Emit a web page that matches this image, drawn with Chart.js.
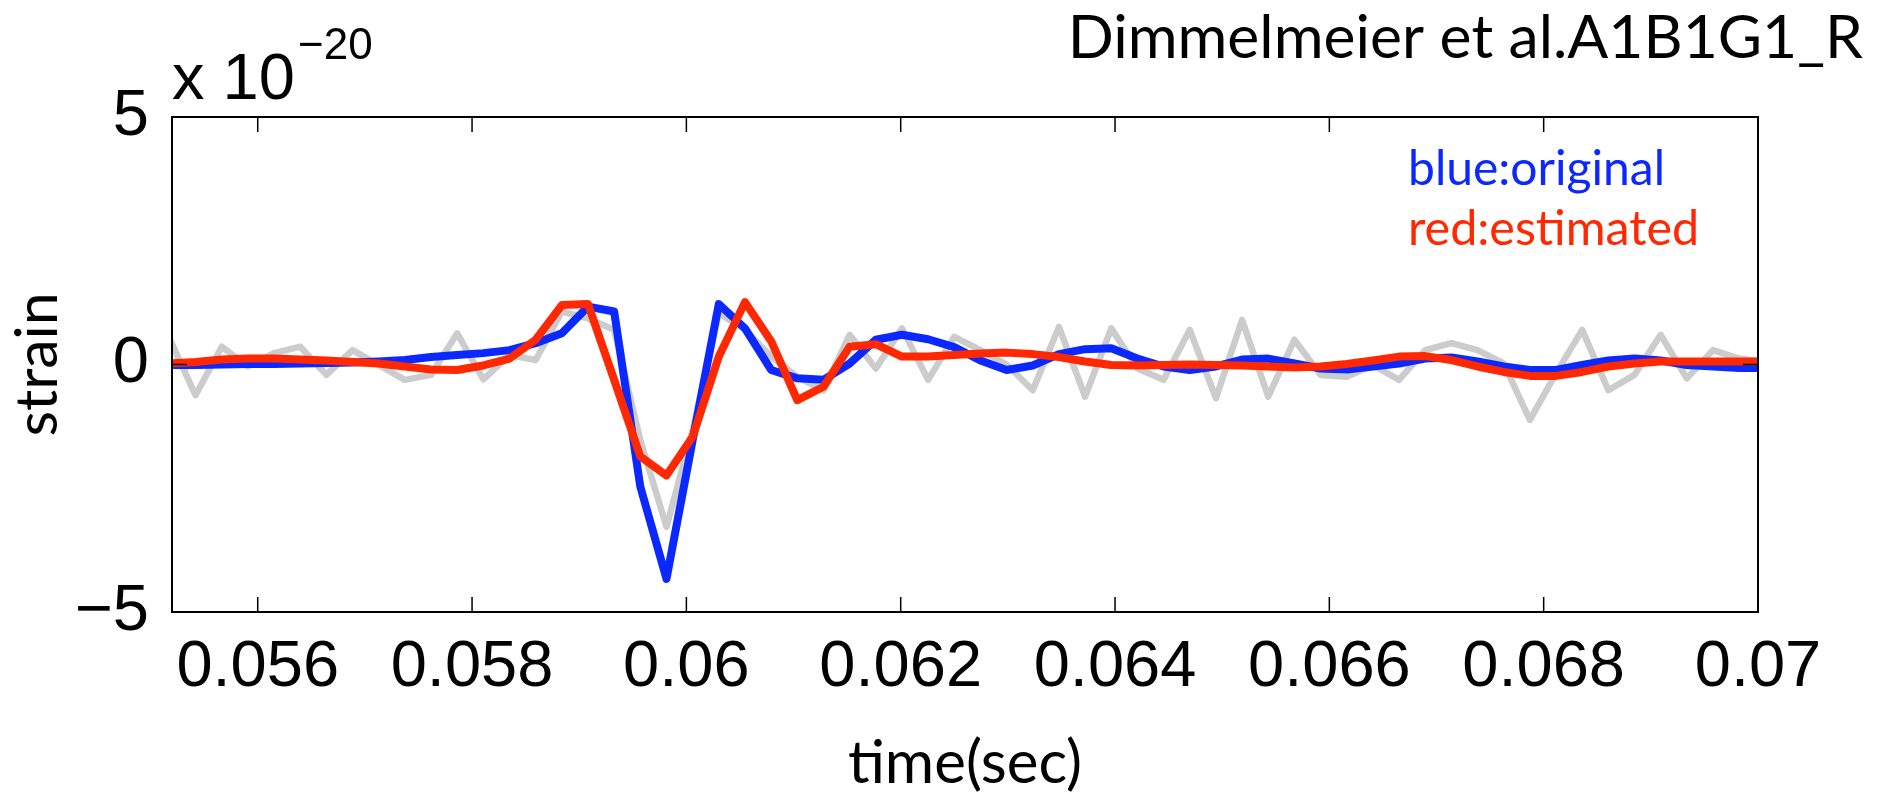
<!DOCTYPE html>
<html>
<head>
<meta charset="utf-8">
<script src="https://cdn.jsdelivr.net/npm/chart.js@4.4.1/dist/chart.umd.min.js"></script>
<style>
  html, body { margin: 0; padding: 0; background: #fff; }
  #wrap { width: 1885px; height: 800px; }
</style>
</head>
<body>
<div id="wrap"><canvas id="strainChart"></canvas></div>
<script>
// samples at 4096 Hz, strain in units of 1e-20
const sampleRate = 4096;
const firstSample = 226;

const xTickValues = [0.056, 0.058, 0.060, 0.062, 0.064, 0.066, 0.068, 0.070];
const xTickLabels = ['0.056', '0.058', '0.06', '0.062', '0.064', '0.066', '0.068', '0.07'];
const yTickValues = [-5, 0, 5];
const yTickLabels = ['\u22125', '0', '5'];

// gray: noisy data
const noisyData = [
  0.53, -0.62, 0.36, -0.04, 0.23, 0.36, -0.21, 0.29, -0.01, -0.31,
  -0.21, 0.63, -0.30, 0.19, 0.09, 1.07, 0.93, 0.70, -1.53, -3.28,
  -1.32, 1.04, 0.70, 0.16, -0.25, -0.52, 0.60, -0.08, 0.73, -0.31,
  0.56, 0.29, 0.00, -0.52, 0.76, -0.65, 0.73, -0.08, -0.31, 0.70,
  -0.68, 0.90, -0.65, 0.50, -0.21, -0.25, -0.01, -0.31, 0.29, 0.43,
  0.29, 0.02, -1.12, -0.18, 0.70, -0.52, -0.21, 0.60, -0.28, 0.29,
  0.12, 0.05
];

// blue: original waveform
const originalData = [
  -0.01, -0.01, 0.00, 0.01, 0.01, 0.02, 0.03, 0.04, 0.06, 0.09,
  0.15, 0.19, 0.23, 0.29, 0.43, 0.63, 1.17, 1.07, -2.47, -4.33,
  -1.53, 1.22, 0.73, -0.11, -0.28, -0.31, 0.02, 0.50, 0.60, 0.51,
  0.35, 0.08, -0.11, -0.02, 0.21, 0.31, 0.33, 0.12, -0.04, -0.11,
  -0.04, 0.10, 0.12, 0.02, -0.08, -0.10, -0.04, 0.02, 0.12, 0.14,
  0.06, -0.04, -0.11, -0.11, -0.01, 0.08, 0.12, 0.08, -0.01, -0.04,
  -0.07, -0.07
];

// red: estimated waveform
const estimatedData = [
  0.02, 0.05, 0.10, 0.12, 0.12, 0.10, 0.08, 0.05, 0.02, -0.04,
  -0.10, -0.11, -0.02, 0.12, 0.50, 1.20, 1.22, -0.31, -1.86, -2.24,
  -1.46, 0.16, 1.26, 0.47, -0.72, -0.45, 0.36, 0.41, 0.16, 0.16,
  0.19, 0.22, 0.24, 0.21, 0.15, 0.06, -0.01, -0.02, -0.01, 0.00,
  -0.01, -0.02, -0.04, -0.06, -0.04, 0.01, 0.08, 0.16, 0.17, 0.09,
  -0.04, -0.15, -0.23, -0.23, -0.15, -0.04, 0.02, 0.06, 0.06, 0.06,
  0.06, 0.06
];

const times = noisyData.map((_, i) => (firstSample + i) / sampleRate);
const toPoints = vals => vals.map((v, i) => ({ x: times[i], y: v }));

const tickFont = { family: "'Liberation Sans', Arial, sans-serif", size: 65 };
const gillFont = "Lato, 'Open Sans', sans-serif";

// size a font so the text spans a given width
function fitFont(ctx, text, family, width) {
  ctx.font = '100px ' + family;
  const size = 100 * width / ctx.measureText(text).width;
  return size.toFixed(1) + 'px ' + family;
}

// matlab style box, inward ticks and the loose texts
const matlabBox = {
  id: 'matlabBox',
  afterDatasetsDraw(chart) {
    const { ctx, chartArea: a, scales: { x, y } } = chart;
    ctx.save();
    ctx.strokeStyle = '#000';
    ctx.lineWidth = 2;
    ctx.strokeRect(a.left, a.top, a.right - a.left, a.bottom - a.top);
    ctx.lineWidth = 1.5;
    ctx.beginPath();
    xTickValues.forEach(v => {
      const px = x.getPixelForValue(v);
      ctx.moveTo(px, a.bottom); ctx.lineTo(px, a.bottom - 15);
      ctx.moveTo(px, a.top); ctx.lineTo(px, a.top + 15);
    });
    yTickValues.forEach(v => {
      const py = y.getPixelForValue(v);
      ctx.moveTo(a.left, py); ctx.lineTo(a.left + 15, py);
      ctx.moveTo(a.right, py); ctx.lineTo(a.right - 15, py);
    });
    ctx.stroke();
    ctx.restore();
  },
  afterDraw(chart) {
    const ctx = chart.ctx;
    ctx.save();
    ctx.textBaseline = 'alphabetic';
    ctx.fillStyle = '#000';

    // exponent label
    ctx.textAlign = 'left';
    ctx.font = "65px 'Liberation Sans', Arial, sans-serif";
    ctx.fillText('x 10', 172, 99);
    ctx.font = "44px 'Liberation Sans', Arial, sans-serif";
    ctx.fillText('\u221220', 298, 59);

    // title
    ctx.textAlign = 'right';
    ctx.font = fitFont(ctx, 'Dimmelmeier et al.A1B1G1_R', gillFont, 795);
    ctx.fillText('Dimmelmeier et al.A1B1G1_R', 1863, 58);

    // colour key
    ctx.textAlign = 'left';
    ctx.fillStyle = '#0a28ff';
    ctx.font = fitFont(ctx, 'blue:original', gillFont, 257);
    ctx.fillText('blue:original', 1408, 185);
    ctx.fillStyle = '#ff2800';
    ctx.font = fitFont(ctx, 'red:estimated', gillFont, 291);
    ctx.fillText('red:estimated', 1408, 245);
    ctx.restore();
  }
};

new Chart(document.getElementById('strainChart'), {
  type: 'line',
  data: {
    datasets: [
      {
        label: 'estimated',
        data: toPoints(estimatedData),
        borderColor: '#ff2800',
        borderWidth: 8,
        order: 0
      },
      {
        label: 'original',
        data: toPoints(originalData),
        borderColor: '#0a28ff',
        borderWidth: 8,
        order: 1
      },
      {
        label: 'noisy',
        data: toPoints(noisyData),
        borderColor: '#cccccc',
        borderWidth: 6.5,
        order: 2
      }
    ]
  },
  options: {
    responsive: true,
    maintainAspectRatio: false,
    animation: false,
    layout: { padding: { top: 117, right: 127, left: 0, bottom: 0 } },
    elements: {
      point: { radius: 0 },
      line: { tension: 0, borderJoinStyle: 'round', fill: false }
    },
    datasets: { line: { clip: 0 } },
    plugins: {
      legend: { display: false },
      title: { display: false },
      tooltip: { enabled: false }
    },
    scales: {
      x: {
        type: 'linear',
        min: 0.0552,
        max: 0.07,
        grid: { display: false },
        border: { display: false },
        afterBuildTicks: s => { s.ticks = xTickValues.map(v => ({ value: v })); },
        afterFit: s => { s.height = 188; },
        ticks: {
          callback: (v, i) => xTickLabels[i],
          font: tickFont,
          color: '#000',
          padding: 9,
          maxRotation: 0,
          autoSkip: false
        },
        title: {
          display: true,
          text: 'time(sec)',
          font: { family: gillFont, size: 60 },
          color: '#000',
          padding: { top: 0, bottom: 0 }
        }
      },
      y: {
        min: -5,
        max: 5,
        grid: { display: false },
        border: { display: false },
        afterBuildTicks: s => { s.ticks = yTickValues.map(v => ({ value: v })); },
        afterFit: s => { s.width = 172; },
        ticks: {
          callback: (v, i) => yTickLabels[i],
          font: tickFont,
          color: '#000',
          padding: 15
        },
        title: {
          display: true,
          text: 'strain',
          font: { family: gillFont, size: 59 },
          color: '#000',
          padding: { top: 3, bottom: 0 }
        }
      }
    }
  },
  plugins: [matlabBox]
});
</script>
</body>
</html>
